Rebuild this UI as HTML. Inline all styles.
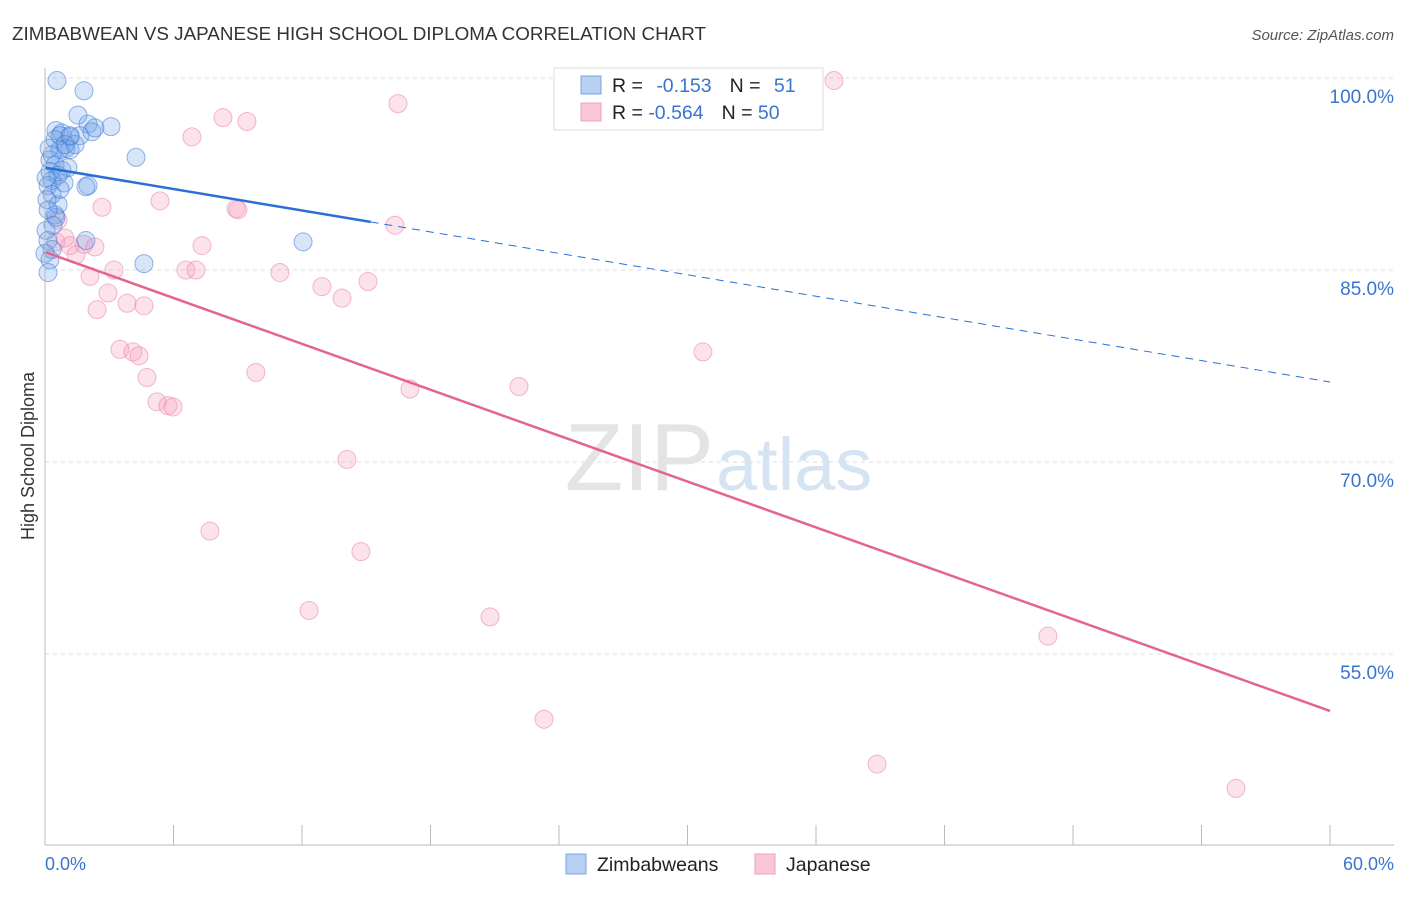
<!DOCTYPE html>
<html><head><meta charset="utf-8"><style>
body{margin:0;background:#fff;font-family:"Liberation Sans",sans-serif}
svg text{font-family:"Liberation Sans",sans-serif}
</style></head><body>
<svg id="chart" width="1406" height="892">
<text x="12" y="40" font-size="18" fill="#333" textLength="694" lengthAdjust="spacingAndGlyphs">ZIMBABWEAN VS JAPANESE HIGH SCHOOL DIPLOMA CORRELATION CHART</text>
<text x="1394" y="40" font-size="15" fill="#555" text-anchor="end" font-style="italic">Source: ZipAtlas.com</text>
<text x="34" y="456" font-size="18" fill="#333" text-anchor="middle" transform="rotate(-90 34 456)">High School Diploma</text>
<g id="grid"></g>
<text x="714" y="490" font-size="96" fill="#e4e4e4" text-anchor="end" font-family="Liberation Serif">ZIP</text>
<text x="716" y="490" font-size="74" fill="#d6e3f3">atlas</text>
<g id="pts"></g><g id="lines"></g>
<line x1="45" y1="68" x2="45" y2="845" stroke="#bbb"/>
<line x1="45" y1="845" x2="1394" y2="845" stroke="#bbb"/>
<text x="45" y="870" font-size="18" fill="#3a74d0">0.0%</text>
<text x="1394" y="870" font-size="18" fill="#3a74d0" text-anchor="end">60.0%</text>
<g>
<rect x="554" y="68" width="269" height="62" fill="#fff" stroke="#ddd"/>
<rect x="581" y="76" width="20" height="18" fill="#b8d0f2" stroke="#7aa4e0"/>
<rect x="581" y="103" width="20" height="18" fill="#f9c6d6" stroke="#eea0b8"/>
<text x="612" y="92" font-size="19.5" fill="#222">R = <tspan fill="#3a74d0" dx="8">-0.153</tspan><tspan fill="#222" dx="18">N = </tspan><tspan fill="#3a74d0" dx="8">51</tspan></text>
<text x="612" y="119" font-size="19.5" fill="#222">R = <tspan fill="#3a74d0">-0.564</tspan><tspan fill="#222" dx="18">N = </tspan><tspan fill="#3a74d0">50</tspan></text>
</g>
<g><rect x="566" y="854" width="20" height="20" fill="#b8d0f2" stroke="#7aa4e0"/><text x="597" y="871" font-size="19.5" fill="#222">Zimbabweans</text></g>
<g><rect x="755" y="854" width="20" height="20" fill="#f9c6d6" stroke="#eea0b8"/><text x="786" y="871" font-size="19.5" fill="#222">Japanese</text></g>
</svg>
<script>
const yTicks=[100,85,70,55];
const xTicks=[0,6,12,18,24,30,36,42,48,54,60];
const blueX=[0.56,1.82,1.54,2.01,3.08,0.51,0.79,0.70,1.17,1.63,2.19,0.47,0.98,1.17,0.70,0.33,4.25,0.47,1.07,0.23,0.33,0.14,0.89,2.01,1.91,0.33,0.61,0.09,0.47,0.51,0.14,1.91,4.62,12.05,0.23,0.14,0.33,0.05,0.23,1.40,0.93,0.61,0.70,0.14,0.37,1.17,2.33,0.05,0.19,0.0,0.79];
const blueY=[99.8,99.0,97.1,96.4,96.2,95.9,95.7,95.5,95.4,95.5,95.8,95.2,94.5,94.4,94.4,94.0,93.8,93.2,93.0,92.7,92.0,91.6,91.8,91.6,91.5,90.9,90.1,90.5,89.3,89.1,87.3,87.3,85.5,87.2,85.8,84.8,86.6,88.1,93.6,94.8,94.8,92.4,91.3,89.7,88.5,95.5,96.1,92.2,94.5,86.3,92.8];
const pinkX=[36.84,16.48,8.31,9.43,6.86,5.37,2.66,8.92,9.01,16.34,7.33,1.82,0.51,1.17,1.45,2.33,3.22,2.10,6.58,7.05,10.97,12.93,13.87,15.08,2.94,3.83,4.62,2.43,3.50,4.11,4.39,4.76,9.85,30.72,22.13,17.04,5.23,5.74,5.98,14.10,7.70,14.75,12.33,20.78,46.83,23.30,38.85,55.61,0.61,0.93];
const pinkY=[99.8,98.0,96.9,96.6,95.4,90.4,89.9,89.8,89.7,88.5,86.9,87.0,87.2,86.9,86.2,86.8,85.0,84.5,85.0,85.0,84.8,83.7,82.8,84.1,83.2,82.4,82.2,81.9,78.8,78.6,78.3,76.6,77.0,78.6,75.9,75.7,74.7,74.4,74.3,70.2,64.6,63.0,58.4,57.9,56.4,49.9,46.4,44.5,88.9,87.5];
const blueTrend=[93.0,76.25]; const blueSolidEnd=15.2;
const pinkTrend=[86.4,50.55];
const NS='http://www.w3.org/2000/svg';
const sx=v=>45+v/60*1285, sy=v=>78+(100-v)/15*192;
function mk(t,a,p){const e=document.createElementNS(NS,t);for(const k in a)e.setAttribute(k,a[k]);p.appendChild(e);return e;}
const grid=document.getElementById('grid');
yTicks.forEach(v=>{
 const l=mk('line',{x1:45,x2:1394,y1:sy(v),y2:sy(v),stroke:'#ddd','stroke-dasharray':'4,4'},grid);
 
 
 const t=mk('text',{x:1394,y:sy(v)+25,'font-size':19,fill:'#3a74d0','text-anchor':'end'},grid);t.textContent=v.toFixed(1)+'%';
 
 
});
xTicks.forEach(v=>{
 const l=mk('line',{x1:sx(v),x2:sx(v),y1:825,y2:845,stroke:'#bbb'},grid);
 
 
});
const pts=document.getElementById('pts');
pinkX.forEach((x,i)=>{const c=mk('circle',{cx:sx(x),cy:sy(pinkY[i]),r:9,fill:'rgba(244,160,190,0.3)',stroke:'rgba(232,130,165,0.55)'},pts);
 
 });
blueX.forEach((x,i)=>{const c=mk('circle',{cx:sx(x),cy:sy(blueY[i]),r:9,fill:'rgba(110,160,230,0.28)',stroke:'rgba(60,120,215,0.55)'},pts);
 
 });
const lines=document.getElementById('lines');
const by=x=>blueTrend[0]+(blueTrend[1]-blueTrend[0])*x/60;
let l=mk('line',{x1:sx(0),y1:sy(by(0)),x2:sx(blueSolidEnd),y2:sy(by(blueSolidEnd)),stroke:'#2a6fd6','stroke-width':2.5},lines);


l=mk('line',{x1:sx(blueSolidEnd),y1:sy(by(blueSolidEnd)),x2:sx(60),y2:sy(by(60)),stroke:'#2a6fd6','stroke-width':1,'stroke-dasharray':'8,6'},lines);


l=mk('line',{x1:sx(0),y1:sy(pinkTrend[0]),x2:sx(60),y2:sy(pinkTrend[1]),stroke:'#e5648f','stroke-width':2.5},lines);


</script>
</body></html>
